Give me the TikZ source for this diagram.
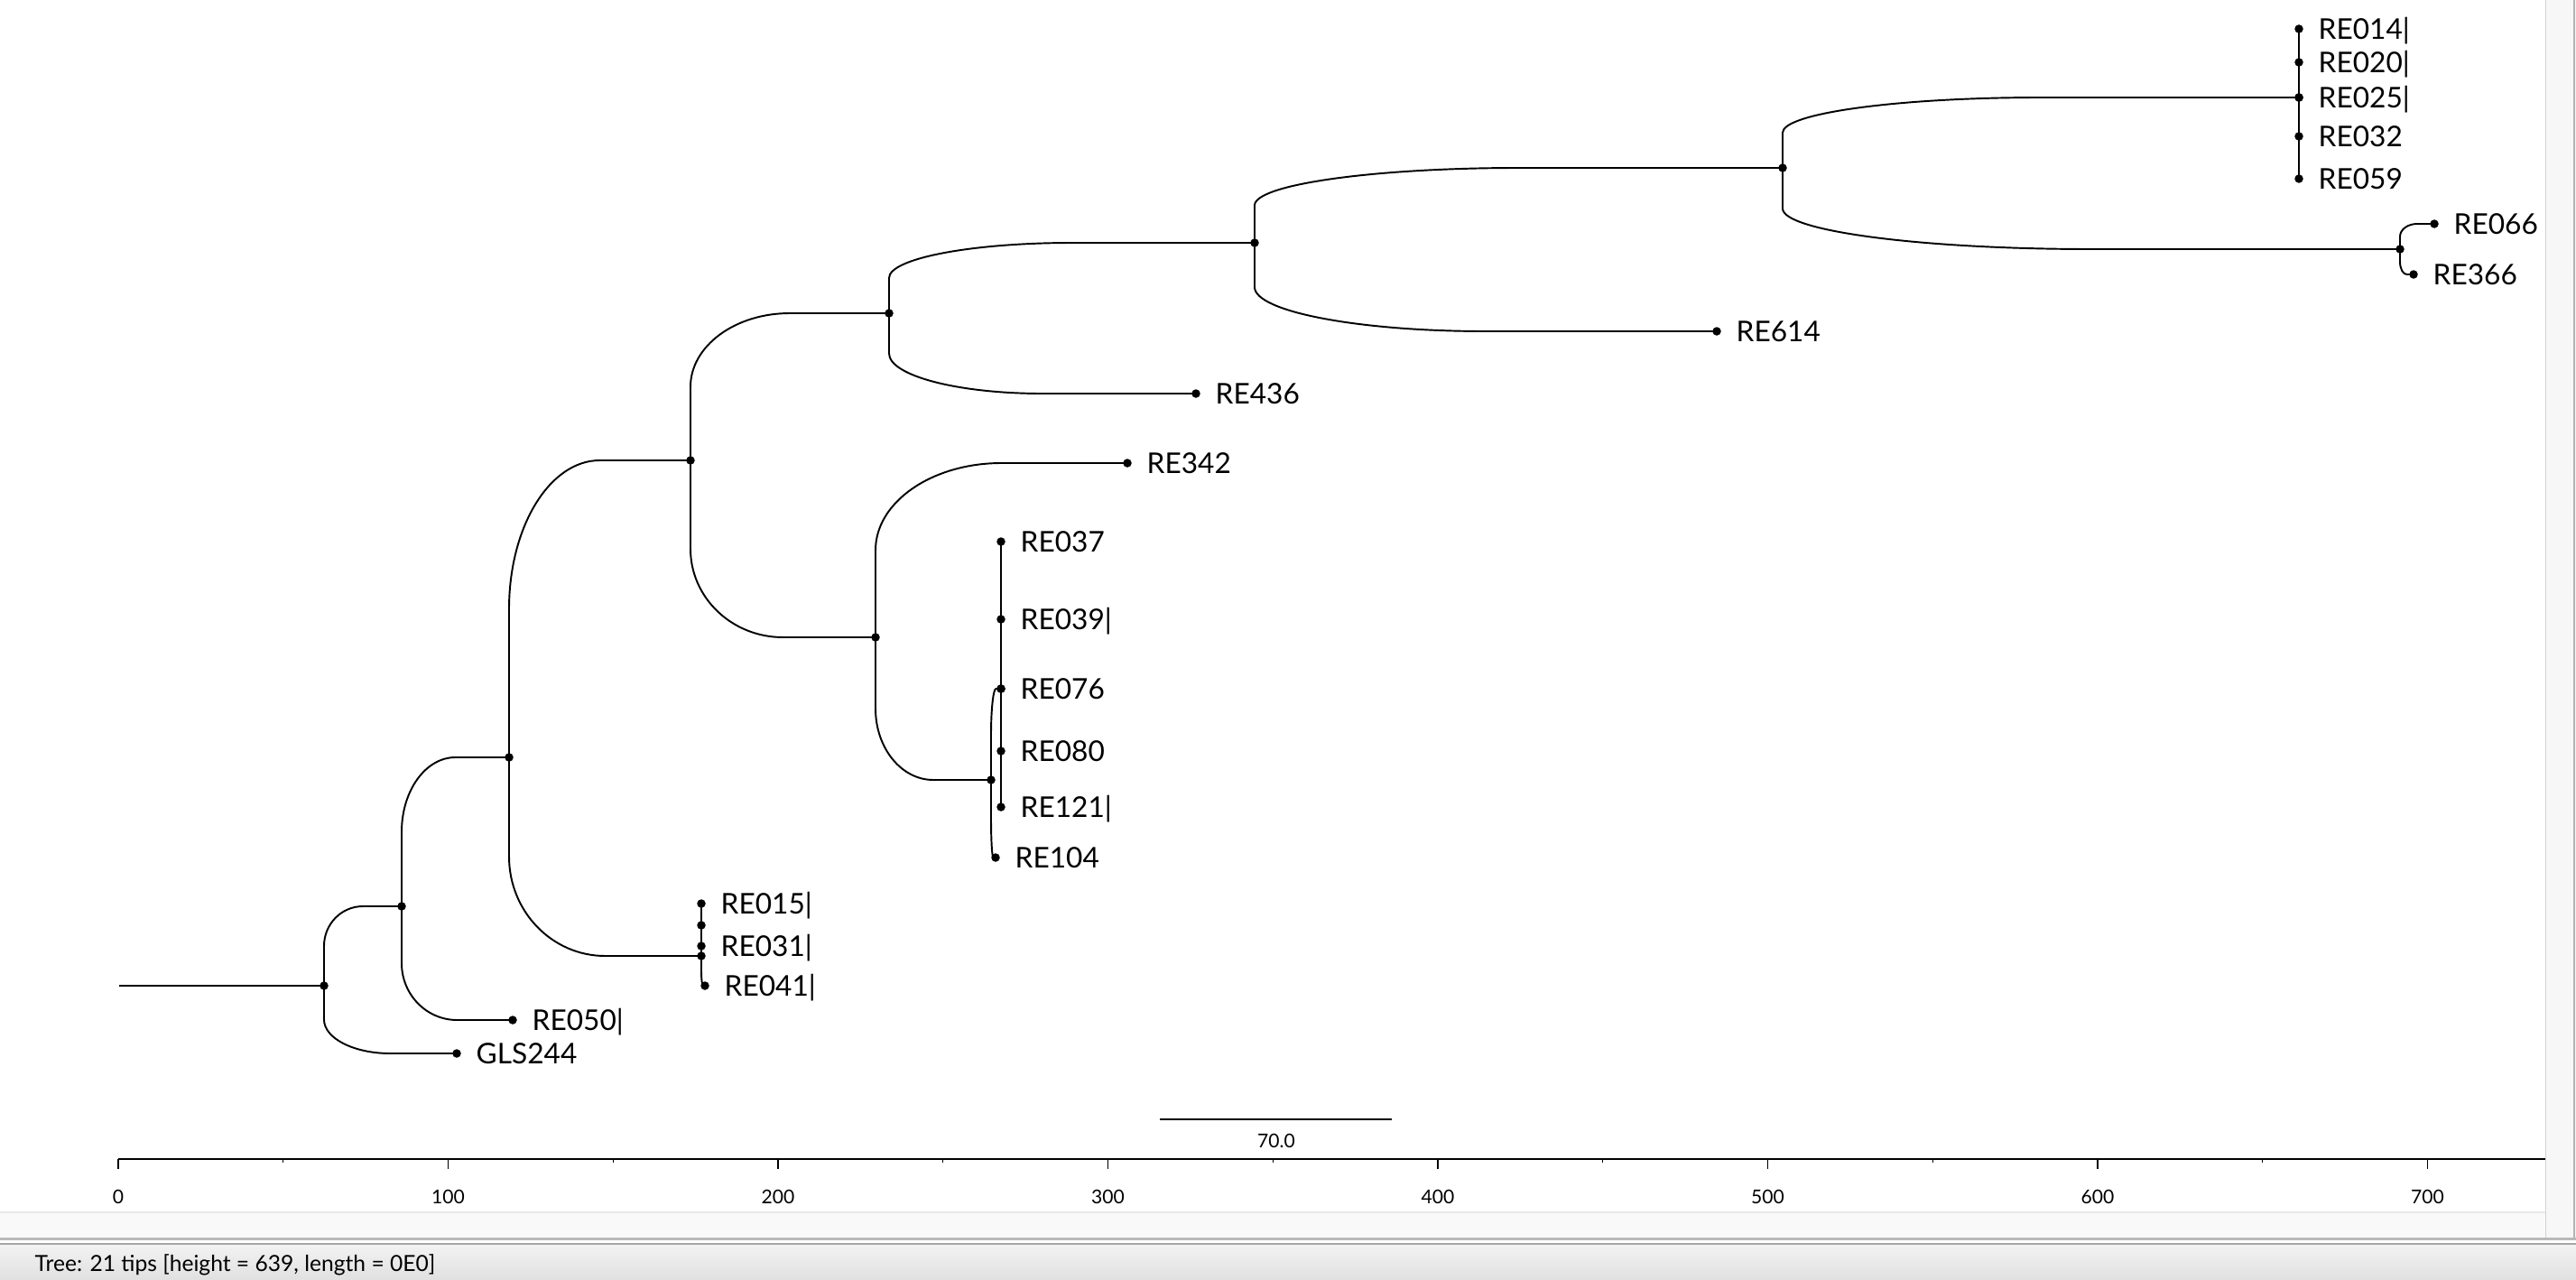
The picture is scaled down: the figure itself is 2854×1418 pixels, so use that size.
\documentclass[tikz,border=0pt]{standalone}
\usepackage{fontspec}
\setmainfont{Lato}
\usetikzlibrary{calc}
\tikzset{
  branch/.style={line width=0.55pt, black},
  dot/.style={circle, fill=black, inner sep=0pt, minimum size=0.095cm},
  lab/.style={anchor=base west, inner sep=0pt, font=\fontsize{9pt}{10pt}\selectfont},
  axlab/.style={anchor=base, inner sep=0pt, font=\fontsize{6pt}{7pt}\selectfont},
  statlab/.style={anchor=base west, inner sep=0pt, font=\fontsize{7pt}{8pt}\selectfont},
}
\newcommand\brch[2]{\draw[branch] let \p1=(#1), \p2=(#2) in
  (\p1) -- (\x1,{(\y1+\y2)/2})
  .. controls (\x1,{(\y1+\y2)/2+0.2762*(\y2-\y1)}) and ({(\x1+\x2)/2-0.2762*(\x2-\x1)},\y2) ..
  ({(\x1+\x2)/2},\y2) -- (\p2);}
\newcommand\tipnode[4]{\node[dot] (#1) at (#2,#3) {};
  \node[lab] (#1lab) at ($(#1)+(21,11.3)$) {#4};}
\begin{document}
\begin{tikzpicture}[x=0.01cm, y=-0.01cm]
\useasboundingbox (0,0) rectangle (2854,1418);
% window background
\fill[white] (0,0) rectangle (2854,1418);
\fill[gray!6] (2820,0) rectangle (2854,1372);
\draw[gray!35, line width=0.3pt] (2820,0) -- (2820,1372);
\draw[gray!60, line width=0.4pt] (2852,0) -- (2852,1372);
\fill[gray!5] (0,1343) rectangle (2820,1371);
\draw[gray!18, line width=0.4pt] (0,1343) -- (2820,1343);
\shade[top color=gray!10, bottom color=gray!24] (0,1379) rectangle (2854,1418);
\draw[gray!55, line width=0.6pt] (0,1372.5) -- (2854,1372.5);
\draw[gray!70, line width=0.6pt] (0,1378) -- (2854,1378);

% internal nodes
\coordinate (root) at (132,1092);
\node[dot] (A) at (359,1092) {};
\node[dot] (B) at (445,1004) {};
\node[dot] (C) at (564,839) {};
\node[dot] (D) at (765,510) {};
\node[dot] (E) at (777,1059) {};
\node[dot] (E2) at (777,1025) {};
\node[dot] (F) at (985,347) {};
\node[dot] (G) at (1390,269) {};
\node[dot] (H) at (1975,186) {};
\node[dot] (I) at (970,706) {};
\node[dot] (J) at (1098,864) {};
\node[dot] (J2) at (1109,763) {};
\node[dot] (K) at (2547,108) {};
\node[dot] (L) at (2659,276) {};

% tips
\tipnode{t014}{2547}{32}{RE014|}
\tipnode{t020}{2547}{69}{RE020|}
\tipnode{t025}{2547}{108}{RE025|}
\tipnode{t032}{2547}{151}{RE032}
\tipnode{t059}{2547}{198}{RE059}
\tipnode{t066}{2697}{248}{RE066}
\tipnode{t366}{2674}{304}{RE366}
\tipnode{t614}{1902}{367}{RE614}
\tipnode{t436}{1325}{436}{RE436}
\tipnode{t342}{1249}{513}{RE342}
\tipnode{t037}{1109}{600}{RE037}
\tipnode{t039}{1109}{686}{RE039|}
\tipnode{t076}{1109}{763}{RE076}
\tipnode{t080}{1109}{832}{RE080}
\tipnode{t121}{1109}{894}{RE121|}
\tipnode{t104}{1103}{950}{RE104}
\tipnode{t015}{777}{1001}{RE015|}
\tipnode{t031}{777}{1048}{RE031|}
\tipnode{t041}{781}{1092}{RE041|}
\tipnode{t050}{568}{1130}{RE050|}
\tipnode{g244}{506}{1167}{GLS244}

% branches
\draw[branch] (root) -- (A.center);
\brch{A}{B} \brch{A}{g244}
\brch{B}{C} \brch{B}{t050}
\brch{C}{D} \brch{C}{E}
\brch{E}{E2} \brch{E}{t041}
\brch{E2}{t015} \brch{E2}{t031}
\brch{D}{F} \brch{D}{I}
\brch{F}{G} \brch{F}{t436}
\brch{G}{H} \brch{G}{t614}
\brch{H}{K} \brch{H}{L}
\brch{K}{t014} \brch{K}{t020} \brch{K}{t032} \brch{K}{t059}
\brch{L}{t066} \brch{L}{t366}
\brch{I}{t342} \brch{I}{J}
\brch{J}{J2} \brch{J}{t104}
\brch{J2}{t037} \brch{J2}{t039} \brch{J2}{t080} \brch{J2}{t121}

% scale bar
\coordinate (sb1) at (1285,1240);
\coordinate (sb2) at (1542,1240);
\draw[line width=0.5pt] (sb1) -- (sb2);
\node[axlab] (sblab) at (1414,1271) {70.0};

% axis
\coordinate (ax0) at (131,1284);
\coordinate (axend) at (2820,1284);
\draw[line width=0.5pt] (ax0) -- (axend);
\foreach \u in {0,100,...,700}{
  \draw[line width=0.35pt] ({131+3.655*\u},1284) -- ++(0,11);
  \node[axlab] (axl\u) at ({131+3.655*\u},1333) {\u};
}
\foreach \u in {50,150,...,650}{
  \draw[line width=0.35pt] ({131+3.655*\u},1284) -- ++(0,4);
}

% status bar
\node[statlab] (status) at (38,1408) {Tree: 21 tips [height = 639, length = 0E0]};
\end{tikzpicture}
\end{document}
